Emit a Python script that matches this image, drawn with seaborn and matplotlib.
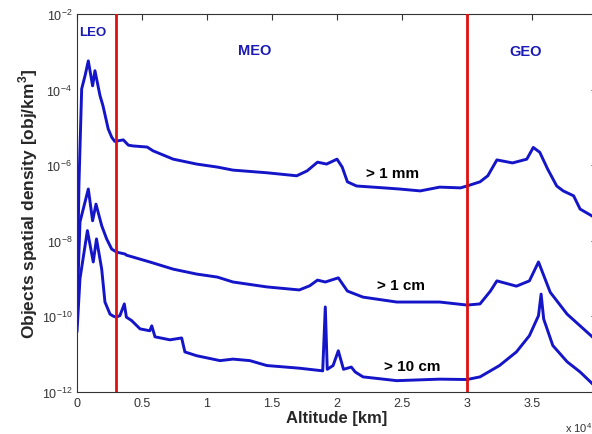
import numpy as np
import pandas as pd
import matplotlib
matplotlib.use("Agg")
import matplotlib.pyplot as plt
import seaborn as sns

# Altitude in units of 10^4 km, density as log10(obj/km^3)
alt_1mm = [0.0, 0.015, 0.036, 0.062, 0.087, 0.12, 0.138, 0.177, 0.2, 0.24, 0.267, 0.29,
           0.356, 0.395, 0.43, 0.54, 0.585, 0.74, 0.92, 1.08, 1.2, 1.46, 1.69, 1.77,
           1.85, 1.92, 2.0, 2.04, 2.08, 2.15, 2.36, 2.48, 2.64, 2.79, 2.95, 3.0, 3.1,
           3.16, 3.23, 3.35, 3.46, 3.51, 3.56, 3.62, 3.69, 3.74, 3.82, 3.87, 3.97]
log_1mm = [-9.8, -6.5, -3.98, -3.63, -3.24, -3.9, -3.5, -4.16, -4.43, -5.04, -5.26, -5.37,
           -5.33, -5.47, -5.49, -5.52, -5.62, -5.84, -5.97, -6.05, -6.13, -6.2, -6.28, -6.15,
           -5.92, -5.97, -5.84, -6.05, -6.44, -6.55, -6.6, -6.63, -6.68, -6.58, -6.6, -6.55, -6.44,
           -6.28, -5.86, -5.94, -5.84, -5.53, -5.66, -6.1, -6.55, -6.68, -6.81, -7.16, -7.36]

alt_1cm = [0.0, 0.012, 0.023, 0.062, 0.087, 0.12, 0.146, 0.19, 0.228, 0.267, 0.305,
           0.37, 0.38, 0.56, 0.74, 0.92, 1.08, 1.2, 1.46, 1.71, 1.79, 1.85, 1.91, 2.01,
           2.08, 2.2, 2.46, 2.79, 3.0, 3.1, 3.18, 3.23, 3.38, 3.48, 3.55, 3.64, 3.77,
           3.87, 3.97]
log_1cm = [-10.2, -8.6, -7.5, -6.97, -6.63, -7.47, -7.03, -7.6, -7.95, -8.22, -8.3,
           -8.35, -8.38, -8.56, -8.75, -8.88, -8.96, -9.09, -9.22, -9.3, -9.19, -9.04, -9.09, -8.98,
           -9.33, -9.49, -9.62, -9.62, -9.7, -9.67, -9.33, -9.06, -9.2, -9.06, -8.56, -9.36, -9.94,
           -10.25, -10.56]

alt_10cm = [0.0, 0.023, 0.08, 0.125, 0.15, 0.19, 0.215, 0.254, 0.277, 0.3, 0.33, 0.364,
            0.38, 0.42, 0.485, 0.56, 0.575, 0.6, 0.715, 0.805, 0.83, 0.92, 1.1, 1.2, 1.33,
            1.46, 1.71, 1.89, 1.91, 1.925, 1.97, 2.01, 2.05, 2.11, 2.14, 2.2, 2.46, 2.79,
            3.0, 3.1, 3.25, 3.38, 3.48, 3.55, 3.57, 3.59, 3.66, 3.77, 3.87, 3.97]
log_10cm = [-10.41, -9.0, -7.73, -8.56, -7.95, -8.75, -9.62, -9.94, -9.99, -10.02, -9.98, -9.67,
            -10.02, -10.11, -10.33, -10.38, -10.25, -10.54, -10.62, -10.57, -10.94, -11.04, -11.17,
            -11.13, -11.17, -11.3, -11.37, -11.44, -9.75, -11.4, -11.3, -10.91, -11.4, -11.34,
            -11.47, -11.6, -11.7, -11.66, -11.67, -11.6, -11.3, -10.94, -10.51, -9.98, -9.41,
            -10.07, -10.77, -11.2, -11.47, -11.8]

region_lines = [0.3, 3.0]
region_names = ["LEO", "MEO", "GEO"]
region_x = [0.12, 1.37, 3.45]
region_logy = [-2.48, -2.95, -2.99]
size_labels = ["> 1 mm", "> 1 cm", "> 10 cm"]
size_label_x = [2.22, 2.31, 2.36]
size_label_logy = [-6.2, -9.18, -11.3]

sns.set_style("white")
plt.rcParams['font.family'] = ['Liberation Sans', 'DejaVu Sans']
plt.rcParams['mathtext.fontset'] = 'custom'
plt.rcParams['mathtext.rm'] = 'Liberation Sans'
plt.rcParams['mathtext.bf'] = 'Liberation Sans:bold'

fig = plt.figure(figsize=(5.92, 4.35), dpi=100)
ax = fig.add_axes([77 / 592, 42 / 435, 520 / 592, 378 / 435])

blue = "#1414c8"
for alt, lg in [(alt_1mm, log_1mm), (alt_1cm, log_1cm), (alt_10cm, log_10cm)]:
    df = pd.DataFrame({"alt": alt, "dens": 10.0 ** np.array(lg)})
    sns.lineplot(data=df, x="alt", y="dens", ax=ax, color=blue, linewidth=2.1, sort=False)

for xv in region_lines:
    ax.axvline(xv, color="#e01010", linewidth=2.0, zorder=5)

ax.set_yscale("log")
ax.set_ylim(1e-12, 1e-2)
ax.set_xlim(0, 4.0)
ax.set_xticks([0, 0.5, 1, 1.5, 2, 2.5, 3, 3.5])
ax.set_xticklabels(["0", "0.5", "1", "1.5", "2", "2.5", "3", "3.5"])
ax.set_yticks([1e-12, 1e-10, 1e-8, 1e-6, 1e-4, 1e-2])
ax.set_yticklabels([r"$10^{-12}$", r"$10^{-10}$", r"$10^{-8}$", r"$10^{-6}$", r"$10^{-4}$", r"$10^{-2}$"])
ax.minorticks_off()
ax.tick_params(direction="in", length=4, width=0.8, top=True, right=True,
               labelsize=9, colors="#333333", labelcolor="#333333")
for s in ax.spines.values():
    s.set_color("#333333")
    s.set_linewidth(0.8)

ax.set_xlabel("Altitude [km]", fontsize=12, fontweight="bold", labelpad=1)
ax.set_ylabel(r"Objects spatial density [obj/km$^\mathbf{3}$]", fontsize=12.5, fontweight="bold", labelpad=1)

for name, xp, ly in zip(region_names, region_x, region_logy):
    ax.text(xp, 10 ** ly, name, color="#1a1ab4",
            fontsize=9.5 if name == "LEO" else 10.5, fontweight="bold", ha="center", va="center")

for lbl, xp, ly in zip(size_labels, size_label_x, size_label_logy):
    ax.text(xp, 10 ** ly, lbl, color="black", fontsize=11, fontweight="bold", ha="left", va="center")

fig.text(565 / 592, 1 - 428 / 435, r"x 10$^4$", fontsize=8, ha="left", va="center", color="#333333")

fig.savefig("out.png", dpi=100)
